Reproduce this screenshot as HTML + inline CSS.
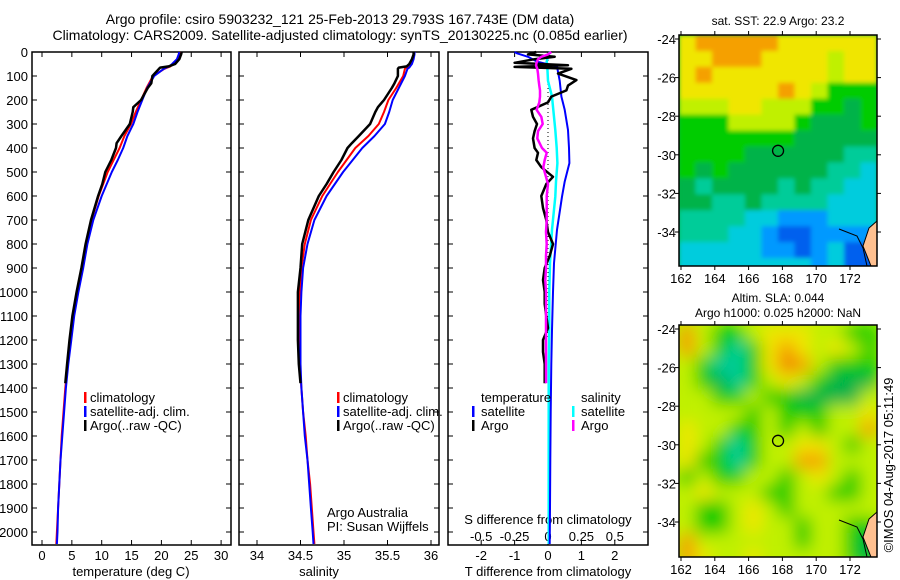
<!DOCTYPE html>
<html><head><meta charset="utf-8"><style>
html,body{margin:0;padding:0;background:#fff;}
svg{display:block;font-family:"Liberation Sans",sans-serif;}
text{font-size:13px;fill:#000;}
</style></head><body>
<svg id="fig" width="900" height="580" viewBox="0 0 900 580">
<defs>
<filter id="b1" x="0" y="0" width="1" height="1"><feGaussianBlur stdDeviation="2"/></filter>
<filter id="b2" x="0" y="0" width="1" height="1"><feGaussianBlur stdDeviation="8"/></filter>
<clipPath id="c1"><rect x="679" y="35" width="198" height="231"/></clipPath>
<clipPath id="c2"><rect x="679" y="325" width="198" height="232"/></clipPath>
</defs>
<text x="340" y="24" text-anchor="middle" style="font-size:14px">Argo profile: csiro 5903232_121 25-Feb-2013 29.793S 167.743E (DM data)</text>
<text x="340" y="40" text-anchor="middle" style="font-size:14px">Climatology: CARS2009. Satellite-adjusted climatology: synTS_20130225.nc (0.085d earlier)</text>
<g id="g"></g>
</svg>
<script>
// ---------- data ----------
const depth = [0,10,30,50,60,65,70,100,150,200,250,300,350,400,450,500,600,700,800,900,1000,1100,1200,1300,1400,1500,1600,1700,1800,1900,2000,2050];
const tClim = [23.2,23.1,22.8,22.0,21.5,21.0,20.5,18.6,17.5,16.6,15.7,14.9,13.8,13.0,12.0,11.0,9.5,8.3,7.4,6.7,5.9,5.2,4.7,4.3,3.9,3.6,3.3,3.1,2.9,2.7,2.5,2.4];
const tSat = [23.0,22.9,22.6,21.8,21.3,20.8,20.4,18.8,17.6,16.8,16.0,15.3,14.3,13.6,12.7,11.7,10.0,8.6,7.6,6.9,6.1,5.4,4.9,4.4,4.0,3.7,3.4,3.1,2.9,2.7,2.6,2.5];
const sClim = [35.80,35.80,35.79,35.76,35.74,35.72,35.70,35.68,35.60,35.51,35.46,35.40,35.28,35.13,35.03,34.93,34.75,34.62,34.55,34.51,34.49,34.48,34.48,34.49,34.51,34.53,34.56,34.58,34.61,34.63,34.65,34.66];
const sSat = [35.81,35.81,35.80,35.78,35.76,35.75,35.73,35.70,35.63,35.56,35.52,35.47,35.35,35.21,35.10,34.99,34.80,34.66,34.58,34.53,34.51,34.50,34.50,34.50,34.51,34.53,34.55,34.58,34.60,34.62,34.64,34.65];
const argoDepth = [0,10,30,50,60,65,70,100,130,150,200,230,250,300,350,380,400,450,500,550,600,700,800,900,1000,1100,1200,1300,1380];
const tArgo = [23.4,23.3,23.0,22.3,21.2,19.8,19.6,18.5,18.3,17.7,16.6,15.3,15.2,14.7,13.3,12.5,12.4,11.6,10.6,10.1,9.4,8.2,7.3,6.6,5.8,5.1,4.6,4.2,3.9];
const sArgo = [35.80,35.80,35.78,35.75,35.72,35.63,35.62,35.62,35.58,35.55,35.46,35.39,35.36,35.30,35.17,35.09,35.04,34.97,34.88,34.80,34.71,34.59,34.52,34.50,34.47,34.47,34.47,34.48,34.50];
const satDiffDepth = [0,5,20,40,61,120,186,241,325,400,463,540,603,741,880,1000,1158,1300,1500,1700,1900,2050];
const tSatDiff = [-1.0,-0.94,-0.6,-0.33,0.27,0.35,0.4,0.5,0.6,0.63,0.64,0.5,0.42,0.27,0.18,0.15,0.12,0.1,0.08,0.07,0.06,0.05];
const sSatDiff = [0.015,0.01,0.0,-0.01,-0.005,0.0,0.03,0.04,0.055,0.065,0.07,0.06,0.055,0.03,0.015,0.01,0.01,0.005,0.005,0.005,0.005,0.005];
const argoDiffDepth = [0,10,20,30,45,55,62,70,90,117,140,160,186,210,241,270,300,330,360,400,420,450,480,520,550,600,650,700,750,800,850,900,950,1000,1050,1100,1150,1200,1250,1300,1380];
const tArgoDiff = [-0.35,-0.6,0.2,-0.4,-1.0,0.6,-1.0,0.7,0.3,0.85,0.6,0.55,0.1,0.0,-0.5,-0.45,-0.33,-0.4,-0.45,-0.4,-0.3,-0.35,-0.2,0.15,-0.05,-0.2,-0.15,-0.05,0.0,0.15,0.05,-0.1,-0.15,-0.1,-0.1,-0.05,0.0,-0.15,-0.15,-0.1,-0.1];
const sArgoDiff = [0.025,0.0,-0.05,-0.075,-0.085,-0.09,-0.085,-0.08,-0.075,-0.07,-0.065,-0.06,-0.06,-0.065,-0.085,-0.05,-0.04,-0.075,-0.08,-0.045,-0.01,-0.025,-0.035,-0.015,0.0,-0.01,-0.01,-0.01,-0.015,-0.01,-0.015,-0.015,-0.02,-0.015,-0.015,-0.015,-0.015,-0.015,-0.015,-0.015,-0.015];
const depthTicks = [0,100,200,300,400,500,600,700,800,900,1000,1100,1200,1300,1400,1500,1600,1700,1800,1900,2000];
const tTicks = [0,5,10,15,20,25,30];
const sTicks = [34,34.5,35,35.5,36];
const tdTicks = [-2,-1,0,1,2];
const sdTicks = [-0.5,-0.25,0,0.25,0.5];
const latTicks = [-24,-26,-28,-30,-32,-34];
const lonTicks = [162,164,166,168,170,172];
const argoLat = -29.793, argoLon = 167.743;
const sstGrid = ["YOOOOOYYYYYY","YYOOOYYYYLYY","YOYYYYYYYLYY","YYYYYYOYLGGG","LLLYYLLLGGgG","GGGLLLLGgggG","GGGGGGGggggg","GGGGggggggTT","GgGggggggTTC","gTggggTgTTCC","ggTTgTTTTCCC","TTTTCCBBBCCC","TTTCCBDDBBBB","CCCCCBBDBCDD","CCCCCCCCBCDD"];
const slaGrid = ["OLGGLYYYLLGG","OLGTGYOYLYLG","LGTTGYoOLGGG","LGgTGLYLGggg","LLGGLGGggggL","LLLLGLGGGLLY","YLLGGLGLGLLO","YLGTGLLYYLGL","YGGTGLLOOLLL","GLGGLLGLYLGL","LYLLLGGLLGGL","LGGLYLGLLLLL","LGGLYLLGLLGG","OLLLLLLGLLGg","OYLLYLLLLLGg"];
// ---------- helpers ----------
const NS="http://www.w3.org/2000/svg";
const G=document.getElementById('g');
function mk(tag,attrs,parent){const e=document.createElementNS(NS,tag);for(const k in attrs)e.setAttribute(k,attrs[k]);(parent||G).appendChild(e);return e;}
const top0=52, bot=545, pxPerM=0.24;
const yD=d=>top0+d*pxPerM;
const xT=v=>42+v*5.97;
const xS=v=>257+(v-34)*87;
const xTD=v=>548+v*33.4;
const xSD=v=>548+v*133.6;
function line(xs,ds,fx,color,w,name){
  const pts=xs.map((v,i)=>fx(v).toFixed(1)+','+yD(ds[i]).toFixed(1)).join(' ');
  const p=mk('polyline',{points:pts,fill:'none',stroke:color,'stroke-width':w,'stroke-linejoin':'round'});
  
  
  return p;
}
function frame(x0,x1,name){
  const r=mk('rect',{x:x0,y:top0,width:x1-x0,height:bot-top0,fill:'none',stroke:'#000','stroke-width':1.5});
  
  
  depthTicks.forEach(d=>{mk('line',{x1:x0,x2:x0+5,y1:yD(d),y2:yD(d),stroke:'#000'});mk('line',{x1:x1-5,x2:x1,y1:yD(d),y2:yD(d),stroke:'#000'});});
}
function xticks(ticks,fx,y,name,fmt){
  ticks.forEach(t=>{
    mk('line',{x1:fx(t),x2:fx(t),y1:bot,y2:bot-5,stroke:'#000'});
    mk('line',{x1:fx(t),x2:fx(t),y1:top0,y2:top0+5,stroke:'#000'});
    const tx=mk('text',{x:fx(t),y:y,'text-anchor':'middle'});tx.textContent=fmt?fmt(t):String(t);
    
    
  });
}
function txt(x,y,s,name,anchor,extra){
  const t=mk('text',Object.assign({x:x,y:y,'text-anchor':anchor||'start'},extra||{}));t.textContent=s;
  
  
  return t;
}
function legBar(x,y,color,name){
  const r=mk('rect',{x:x,y:y-10,width:2.5,height:11,fill:color});
  
  
}
// ---------- panel 1 temperature ----------
frame(32,231,'temperature-axes');
depthTicks.forEach(d=>{txt(28,yD(d)+5,String(d),'depth-tick-label','end');});
xticks(tTicks,xT,560,'temperature-tick-label');
txt(131,576,'temperature (deg C)','temperature-axis-title','middle');
line(tClim,depth,xT,'#ff0000',2,'temperature-climatology-line');
line(tSat,depth,xT,'#0000ff',2,'temperature-satellite-line');
line(tArgo,argoDepth,xT,'#000000',2.5,'temperature-argo-line');
legBar(84,402,'#ff0000','legend-swatch-climatology');txt(90,402,'climatology','legend-climatology');
legBar(84,416,'#0000ff','legend-swatch-satellite');txt(90,416,'satellite-adj. clim.','legend-satellite');
legBar(84,430,'#000','legend-swatch-argo');txt(90,430,'Argo(..raw -QC)','legend-argo');
// ---------- panel 2 salinity ----------
frame(239,439,'salinity-axes');
xticks(sTicks,xS,560,'salinity-tick-label');
txt(319,576,'salinity','salinity-axis-title','middle');
line(sClim,depth,xS,'#ff0000',2,'salinity-climatology-line');
line(sSat,depth,xS,'#0000ff',2,'salinity-satellite-line');
line(sArgo,argoDepth,xS,'#000000',2.5,'salinity-argo-line');
legBar(337,402,'#ff0000','legend-swatch-climatology');txt(343,402,'climatology','legend-climatology');
legBar(337,416,'#0000ff','legend-swatch-satellite');txt(343,416,'satellite-adj. clim.','legend-satellite');
legBar(337,430,'#000','legend-swatch-argo');txt(343,430,'Argo(..raw -QC)','legend-argo');
txt(327,517,'Argo Australia','credit-argo-australia');
txt(327,531,'PI: Susan Wijffels','credit-pi');
// ---------- panel 3 differences ----------
frame(448,648,'difference-axes');
xticks(tdTicks,xTD,560,'t-difference-tick-label');
sdTicks.forEach(t=>{txt(xSD(t),541,String(t),'s-difference-tick-label','middle');});
txt(548,576,'T difference from climatology','t-difference-axis-title','middle');
txt(548,524,'S difference from climatology','s-difference-axis-title','middle');
mk('line',{x1:548,x2:548,y1:top0,y2:yD(1200),stroke:'#000','stroke-dasharray':'1,3'});
line(sSatDiff,satDiffDepth,xSD,'#00ffff',2.5,'salinity-satellite-diff-line');
line(tSatDiff,satDiffDepth,xTD,'#0000ff',2,'temperature-satellite-diff-line');
line(tArgoDiff,argoDiffDepth,xTD,'#000000',2.5,'temperature-argo-diff-line');
line(sArgoDiff,argoDiffDepth,xSD,'#ff00ff',2.5,'salinity-argo-diff-line');
txt(481,402,'temperature','legend-temperature-heading');
txt(581,402,'salinity','legend-salinity-heading');
legBar(472,416,'#0000ff','legend-swatch-t-satellite');txt(481,416,'satellite','legend-t-satellite');
legBar(472,430,'#000','legend-swatch-t-argo');txt(481,430,'Argo','legend-t-argo');
legBar(572,416,'#00ffff','legend-swatch-s-satellite');txt(581,416,'satellite','legend-s-satellite');
legBar(572,430,'#ff00ff','legend-swatch-s-argo');txt(581,430,'Argo','legend-s-argo');
// ---------- maps ----------
const pal={O:'#f5a000',o:'#f08000',Y:'#f0e600',L:'#c0f000',G:'#00cc00',g:'#00b34a',T:'#00cc99',C:'#00ccdd',B:'#0099ff',D:'#0060ee'};
function map(y0,h,grid,blur,clip,name,title1,title2){
  const x0=679,w=198;
  const lat0=y0+4, lonX=lo=>681+(lo-162)*16.9, latY=la=>lat0+(-24-la)*19.3;
  const g=mk('g',{'clip-path':'url(#'+clip+')'});
  
  
  mk('rect',{x:x0,y:y0,width:w,height:h,fill:pal[grid[7][6]]},g);
  const inner=mk('g',{filter:'url(#'+blur+')'},g);
  const cw=w/grid[0].length, ch=h/(grid.length-0.5);
  grid.forEach((row,r)=>row.split('').forEach((c,k)=>{
    mk('rect',{x:x0+k*cw,y:y0+r*ch,width:cw+0.5,height:ch+0.5,fill:pal[c]},inner);
  }));
  mk('polygon',{points:`${x0+w},${y0+h-45} ${x0+w-8},${y0+h-38} ${x0+w-14},${y0+h-20} ${x0+w-6},${y0+h} ${x0+w},${y0+h}`,fill:'#ffc090',stroke:'#000','stroke-width':1},g);
  mk('polyline',{points:`${x0+w-38},${y0+h-37} ${x0+w-20},${y0+h-30} ${x0+w-14},${y0+h-18} ${x0+w-10},${y0+h}`,fill:'none',stroke:'#000','stroke-width':1},g);
  mk('rect',{x:x0,y:y0,width:w,height:h,fill:'none',stroke:'#000','stroke-width':1.5});
  const m=mk('circle',{cx:lonX(argoLon),cy:latY(argoLat),r:5.5,fill:'none',stroke:'#000','stroke-width':1.3});
  
  
  latTicks.forEach(la=>{const y=latY(la);mk('line',{x1:x0,x2:x0-4,y1:y,y2:y,stroke:'#000'});mk('line',{x1:x0+w,x2:x0+w+4,y1:y,y2:y,stroke:'#000'});txt(x0-3,y+5,String(la),'latitude-tick-label','end');});
  lonTicks.forEach(lo=>{const x=lonX(lo);mk('line',{x1:x,x2:x,y1:y0,y2:y0-4,stroke:'#000'});mk('line',{x1:x,x2:x,y1:y0+h,y2:y0+h+4,stroke:'#000'});txt(x,y0+h+17,String(lo),'longitude-tick-label','middle');});
  if(title2){txt(x0+w/2,y0-23,title1,'map-title','middle',{style:'font-size:12px'});txt(x0+w/2,y0-8,title2,'map-subtitle','middle',{style:'font-size:12px'});}
  else txt(x0+w/2,y0-10,title1,'map-title','middle',{style:'font-size:12px'});
}
map(35,231,sstGrid,'b1','c1','sst-map','sat. SST: 22.9 Argo: 23.2');
map(325,232,slaGrid,'b2','c2','sla-map','Altim. SLA: 0.044','Argo h1000: 0.025 h2000: NaN');
txt(893,465,'©IMOS 04-Aug-2017 05:11:49','imos-timestamp','middle',{transform:'rotate(-90 893 465)'});
</script>
</body></html>
